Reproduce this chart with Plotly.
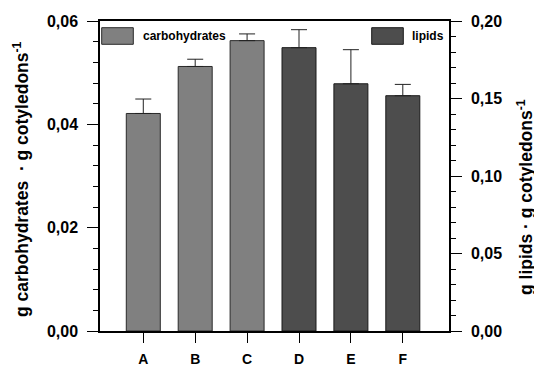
import plotly.graph_objects as go

categories = ["A", "B", "C", "D", "E", "F"]
carb_cats = ["A", "B", "C"]
carb_vals = [0.0421, 0.0512, 0.0562]
carb_err = [0.0028, 0.0014, 0.0013]
lipid_cats = ["D", "E", "F"]
lipid_vals = [0.1828, 0.1595, 0.1518]
lipid_err = [0.0116, 0.0220, 0.0073]

pos = {c: i for i, c in enumerate(categories)}
FONT = "Liberation Sans, Arial, sans-serif"

fig = go.Figure()
fig.add_trace(go.Bar(
    x=[pos[c] for c in carb_cats], y=carb_vals, width=0.655,
    marker=dict(color="#808080", line=dict(color="#2a2a2a", width=1)),
    error_y=dict(type="data", symmetric=False, array=carb_err, arrayminus=[0]*3,
                 color="#222", thickness=1, width=8),
    name="carbohydrates", showlegend=False, yaxis="y"))
fig.add_trace(go.Bar(
    x=[pos[c] for c in lipid_cats], y=lipid_vals, width=0.655,
    marker=dict(color="#4d4d4d", line=dict(color="#1a1a1a", width=1)),
    error_y=dict(type="data", symmetric=False, array=lipid_err, arrayminus=[0]*3,
                 color="#222", thickness=1, width=8),
    name="lipids", showlegend=False, yaxis="y2"))

# page has an 8px body margin: work in reference pixels minus 8
OFF = 8
W, H = 542 - OFF, 365 - OFF
L, R, T, B = 100 - OFF, 449 - OFF, 21 - OFF, 331 - OFF
def px(x): return (x - OFF - L) / (R - L)
def py(y): return (B - (y - OFF)) / (B - T)

shapes = [
    dict(type="rect", xref="paper", yref="paper", x0=px(101.7), x1=px(133.3), y0=py(44.3), y1=py(27.7),
         fillcolor="#808080", line=dict(color="#2a2a2a", width=1)),
    dict(type="rect", xref="paper", yref="paper", x0=px(371.7), x1=px(403.3), y0=py(44.3), y1=py(27.7),
         fillcolor="#4d4d4d", line=dict(color="#1a1a1a", width=1)),
]
annotations = [
    dict(text="carbohydrates", xref="paper", yref="paper", x=px(141), y=py(36),
         xanchor="left", yanchor="middle", showarrow=False,
         font=dict(family=FONT, size=12, color="black", weight="bold")),
    dict(text="lipids", xref="paper", yref="paper", x=px(410), y=py(36),
         xanchor="left", yanchor="middle", showarrow=False,
         font=dict(family=FONT, size=12, color="black", weight="bold")),
    dict(text="g carbohydrates  · g cotyledons<sup>-1</sup>", xref="paper", yref="paper",
         x=px(21), y=py(179), textangle=-90, xanchor="center", yanchor="middle",
         showarrow=False, font=dict(family=FONT, size=17.5, color="black", weight="bold")),
    dict(text="g lipids · g cotyledons<sup>-1</sup>", xref="paper", yref="paper",
         x=px(525), y=py(197), textangle=-90, xanchor="center", yanchor="middle",
         showarrow=False, font=dict(family=FONT, size=17.5, color="black", weight="bold")),
]

tf = dict(family=FONT, size=16, color="black", weight="bold")
fig.update_layout(
    width=W, height=H, margin=dict(l=L, r=W - R, t=T, b=H - B, autoexpand=False),
    plot_bgcolor="white", paper_bgcolor="white", separators=",.",
    barmode="overlay", showlegend=False,
    font=dict(family=FONT, size=14, color="black"),
    shapes=shapes, annotations=annotations,
    xaxis=dict(range=[-0.834, 5.89], tickvals=list(range(6)), ticktext=categories,
               ticks="outside", ticklen=10, tickcolor="black", showline=True, linecolor="black", linewidth=1.5,
               mirror=True, showgrid=False, zeroline=False, ticklabelstandoff=4, automargin=False,
               tickfont=dict(family=FONT, size=14, color="black", weight="bold")),
    yaxis=dict(range=[0, 0.06], dtick=0.02, tickformat=".2f", ticks="outside", ticklen=11, tickcolor="black",
               showline=True, linecolor="black", linewidth=1.5, showgrid=False, zeroline=False,
               automargin=False, ticklabelstandoff=6,
               minor=dict(dtick=0.004, ticks="outside", ticklen=5, tickcolor="black"),
               tickfont=tf),
    yaxis2=dict(range=[0, 0.20], dtick=0.05, tickformat=".2f", ticks="outside", ticklen=11, tickcolor="black",
                overlaying="y", side="right", showline=True, linecolor="black", linewidth=1.5,
                showgrid=False, zeroline=False, automargin=False, ticklabelstandoff=6,
                minor=dict(dtick=0.01, ticks="outside", ticklen=5, tickcolor="black"),
                tickfont=tf),
)
fig.write_html("out.html")
